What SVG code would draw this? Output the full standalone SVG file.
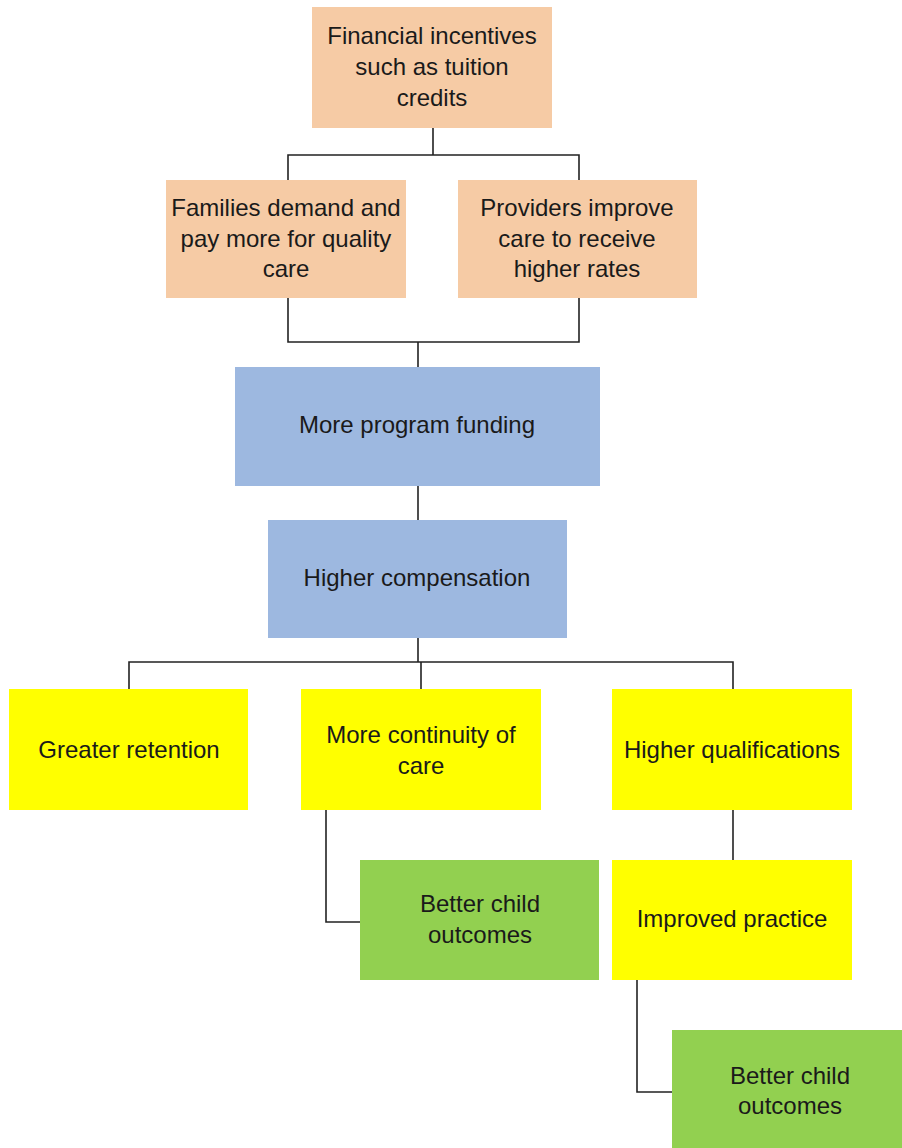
<svg xmlns="http://www.w3.org/2000/svg" width="902" height="1148" viewBox="0 0 902 1148">
<style>
.peach{fill:#F6CBA5}
.blue{fill:#9DB8E0}
.yellow{fill:#FFFF00}
.green{fill:#92D050}
text{font-family:"Liberation Sans",Arial,sans-serif;font-size:24px;fill:#1a1a1a;text-anchor:middle}
.conn{fill:none;stroke:#222;stroke-width:1.6}
</style>
<rect width="902" height="1148" fill="#fff"/>
<g id="connectors" class="conn">
<path d="M433,128 V155 M288,180 V155 H579 V180"/>
<path d="M288,298 V342 H579 V298 M418,342 V367"/>
<path d="M418,486 V520"/>
<path d="M418,638 V662 M129,689 V662 H733 V689 M421,662 V689"/>
<path d="M326,810 V922 H360"/>
<path d="M733,810 V860"/>
<path d="M637,980 V1092 H672"/>
</g>
<g id="n1"><rect class="peach" x="312" y="7" width="240" height="121"/>
<text x="432" y="44">Financial incentives</text><text x="432" y="75">such as tuition</text><text x="432" y="106">credits</text></g>
<g id="n2"><rect class="peach" x="166" y="180" width="240" height="118"/>
<text x="286" y="216">Families demand and</text><text x="286" y="247">pay more for quality</text><text x="286" y="277">care</text></g>
<g id="n3"><rect class="peach" x="458" y="180" width="239" height="118"/>
<text x="577" y="216">Providers improve</text><text x="577" y="247">care to receive</text><text x="577" y="277">higher rates</text></g>
<g id="n4"><rect class="blue" x="235" y="367" width="365" height="119"/>
<text x="417" y="433">More program funding</text></g>
<g id="n5"><rect class="blue" x="268" y="520" width="299" height="118"/>
<text x="417" y="586">Higher compensation</text></g>
<g id="n6"><rect class="yellow" x="9" y="689" width="239" height="121"/>
<text x="129" y="758">Greater retention</text></g>
<g id="n7"><rect class="yellow" x="301" y="689" width="240" height="121"/>
<text x="421" y="743">More continuity of</text><text x="421" y="774">care</text></g>
<g id="n8"><rect class="yellow" x="612" y="689" width="240" height="121"/>
<text x="732" y="758">Higher qualifications</text></g>
<g id="n9"><rect class="green" x="360" y="860" width="239" height="120"/>
<text x="480" y="912">Better child</text><text x="480" y="943">outcomes</text></g>
<g id="n10"><rect class="yellow" x="612" y="860" width="240" height="120"/>
<text x="732" y="927">Improved practice</text></g>
<g id="n11"><rect class="green" x="672" y="1030" width="230" height="118"/>
<text x="790" y="1084">Better child</text><text x="790" y="1114">outcomes</text></g>
</svg>
